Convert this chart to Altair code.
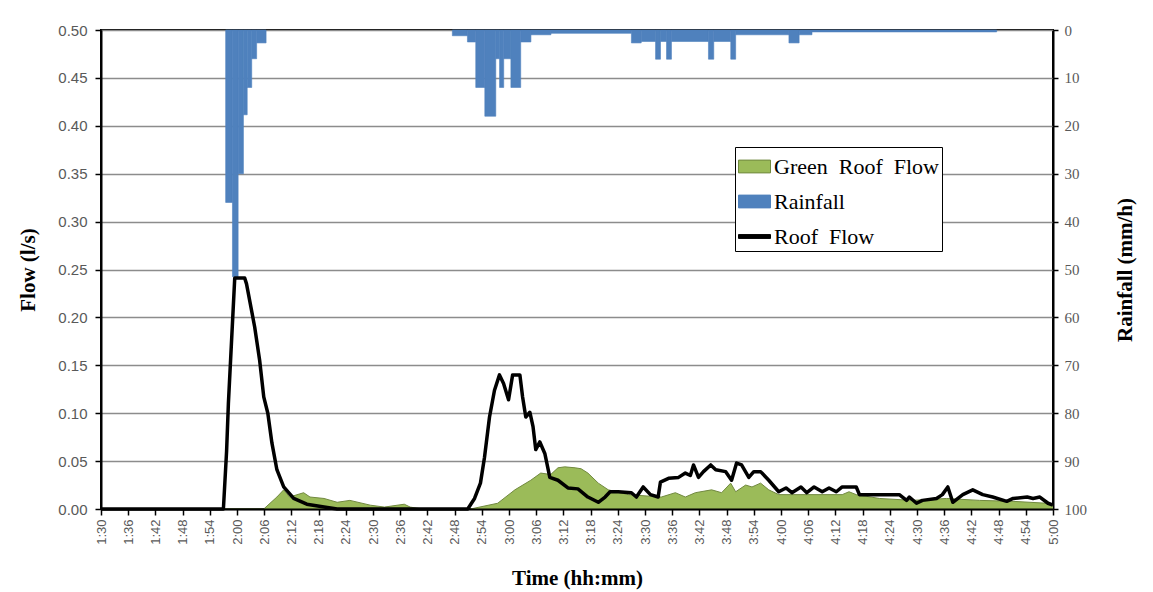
import altair as alt
import pandas as pd


def clock(s):
    p = [int(v) for v in s.split(":")]
    return p[0] * 60 + p[1] + (p[2] if len(p) > 2 else 0) / 60.0


# ---------------- data ----------------
tick_labels = ["1:30", "1:36", "1:42", "1:48", "1:54", "2:00", "2:06", "2:12", "2:18",
               "2:24", "2:30", "2:36", "2:42", "2:48", "2:54", "3:00", "3:06", "3:12",
               "3:18", "3:24", "3:30", "3:36", "3:42", "3:48", "3:54", "4:00", "4:06",
               "4:12", "4:18", "4:24", "4:30", "4:36", "4:42", "4:48", "4:54", "5:00"]
flow_ticks = [0.0, 0.05, 0.10, 0.15, 0.20, 0.25, 0.30, 0.35, 0.40, 0.45, 0.50]
rain_ticks = [0, 10, 20, 30, 40, 50, 60, 70, 80, 90, 100]

# Roof flow (l/s); time in minutes after midnight
roof_time = [90, 117.0, 117.7, 118.1, 119.5, 121.7, 122.1, 123.9, 125.0, 125.9,
             126.8, 127.7, 128.8, 130.3, 132.5, 135.4, 139.2, 142.1, 170.9, 172.4,
             173.7, 174.6, 175.7, 176.8, 177.9, 178.8, 179.9, 180.8, 182.4, 183.0,
             183.7, 184.6, 185.3, 185.9, 186.8, 187.9, 189.0, 190.8, 193.0, 195.2,
             197.4, 199.7, 201.2, 202.3, 204.1, 207.0, 208.1, 209.6, 211.2, 212.9,
             213.4, 215.2, 217.4, 218.9, 220.0, 220.7, 221.8, 222.9, 224.5, 225.6,
             227.8, 229.1, 230.2, 231.3, 232.9, 234.0, 235.5, 237.3, 239.5, 241.1,
             242.4, 244.4, 245.7, 247.3, 249.1, 250.6, 252.2, 253.5, 256.6, 257.3,
             266.1, 267.7, 268.3, 269.9, 271.2, 274.3, 275.6, 276.8, 277.9, 280.1,
             282.3, 284.5, 286.7, 289.8, 291.2, 294.3, 295.6, 297.1, 298.9, 300.0]
roof_flow = [0, 0, 0.06, 0.11, 0.241, 0.241, 0.235, 0.19, 0.155, 0.117,
             0.10, 0.069, 0.041, 0.023, 0.011, 0.005, 0.002, 0.0, 0.0, 0.011,
             0.027, 0.054, 0.096, 0.124, 0.140, 0.131, 0.114, 0.140, 0.140, 0.117,
             0.096, 0.101, 0.086, 0.062, 0.070, 0.058, 0.033, 0.030, 0.022, 0.021,
             0.0125, 0.007, 0.0125, 0.018, 0.018, 0.017, 0.0125, 0.023, 0.015, 0.0125,
             0.028, 0.032, 0.033, 0.0375, 0.035, 0.046, 0.033, 0.039, 0.046, 0.041,
             0.039, 0.030, 0.048, 0.046, 0.033, 0.039, 0.039, 0.030, 0.018, 0.022,
             0.017, 0.023, 0.017, 0.023, 0.018, 0.022, 0.018, 0.023, 0.023, 0.015,
             0.015, 0.009, 0.0125, 0.006, 0.009, 0.011, 0.015, 0.023, 0.007, 0.015,
             0.020, 0.015, 0.0125, 0.008, 0.011, 0.0125, 0.011, 0.0125, 0.006, 0.004]

# Green roof flow (l/s)
green_time = [90, 125.9, 128.8, 130.3, 131.6, 134.7, 136.1, 139.2, 142.1, 144.9,
              149.4, 152.5, 156.9, 158.2, 160.9, 171.5, 177.5, 181.3, 184.8, 187.0,
              189.2, 190.8, 192.3, 194.6, 195.9, 197.4, 199.7, 201.9, 206.3, 213.6,
              216.7, 218.9, 221.1, 224.7, 226.9, 228.9, 230.0, 232.2, 233.6, 235.5,
              237.3, 239.5, 253.5, 255.0, 256.6, 261.7, 269.0, 276.5, 283.8, 291.2,
              298.7, 300.0]
green_flow = [0, 0, 0.0125, 0.020, 0.0125, 0.017, 0.0125, 0.011, 0.007, 0.009,
              0.004, 0.002, 0.005, 0.002, 0.0, 0.0, 0.006, 0.020, 0.030, 0.0375,
              0.036, 0.043, 0.044, 0.043, 0.042, 0.0375, 0.027, 0.020, 0.015, 0.0125,
              0.017, 0.0125, 0.017, 0.020, 0.017, 0.027, 0.018, 0.025, 0.023, 0.027,
              0.020, 0.015, 0.015, 0.018, 0.015, 0.011, 0.009, 0.011, 0.009, 0.008,
              0.006, 0.004]

# Rainfall (mm/h) bars
rain_start = ["1:57:30", "1:59:00", "2:00:15", "2:01:25", "2:02:15", "2:03:15", "2:04:20",
              "2:47:30", "2:50:50", "2:52:40", "2:54:40", "2:57:05", "2:57:55", "2:58:50",
              "3:00:25", "3:02:35", "3:04:50", "3:09:15", "3:27:00", "3:29:10", "3:32:20",
              "3:33:25", "3:34:45", "3:35:50", "3:44:00", "3:45:10", "3:48:55", "3:50:00",
              "4:01:45", "4:04:00", "4:06:50"]
rain_end = ["1:59:00", "2:00:15", "2:01:25", "2:02:15", "2:03:15", "2:04:20", "2:06:25",
            "2:50:50", "2:52:40", "2:54:40", "2:57:05", "2:57:55", "2:58:50", "3:00:25",
            "3:02:35", "3:04:50", "3:09:15", "3:27:00", "3:29:10", "3:32:20", "3:33:25",
            "3:34:45", "3:35:50", "3:44:00", "3:45:10", "3:48:55", "3:50:00", "4:01:45",
            "4:04:00", "4:06:50", "4:47:35"]
rain_value = [36, 51.5, 30, 17.7, 12, 6, 2.7,
              1.2, 2.5, 12, 18, 6, 12, 6,
              12, 2.5, 1.0, 0.7, 2.7, 2.4, 6.1,
              2.4, 6.1, 2.4, 6.1, 2.4, 6.1, 1.0,
              2.7, 1.0, 0.4]

series_names = ["Green Roof Flow", "Rainfall", "Roof Flow"]
series_fill = ["#9bbb59", "#4f81bd", "#000000"]
series_stroke = ["#71893f", "#4f81bd", "#000000"]

# ---------------- frames ----------------
roof = pd.DataFrame({"t": roof_time, "flow": roof_flow})
green = pd.DataFrame({"t": green_time, "flow": green_flow})
rain = pd.DataFrame({
    "start": [clock(s) for s in rain_start],
    "end": [clock(s) for s in rain_end],
    "rain": rain_value,
})
rain["zero"] = 0.0
rain["series"] = "Rainfall"

W, H = 952, 479
SANS = "Liberation Sans"
SERIF = "Liberation Serif"
LABEL_GREY = "#595959"

tick_values = [clock(s) for s in tick_labels]
x_scale = alt.Scale(domain=[90, 300], nice=False, zero=False)
x_axis = alt.Axis(
    values=tick_values,
    labelExpr="floor(datum.value / 60) + ':' + (datum.value % 60 < 10 ? '0' : '') + (datum.value % 60)",
    labelAngle=270, labelFont=SANS, labelFontSize=13, labelColor=LABEL_GREY,
    labelPadding=4, labelFlush=False, labelOverlap=False,
    tickSize=6, tickColor="black", tickWidth=1.5,
    domainColor="black", domainWidth=2, grid=False,
    title="Time (hh:mm)", titleFont=SERIF, titleFontSize=21, titleFontWeight="bold",
    titleColor="black", titleX=W / 2, titleY=69, titleAlign="center", titleBaseline="middle",
    zindex=1,
)

flow_scale = alt.Scale(domain=[0, 0.5], nice=False, zero=True)
flow_axis = alt.Axis(
    orient="left", values=flow_ticks, format=".2f",
    labelFont=SANS, labelFontSize=15, labelColor=LABEL_GREY, labelPadding=8,
    labelFlush=False, labelOverlap=False,
    tickSize=6, tickColor="black", tickWidth=1.5,
    domainColor="black", domainWidth=2,
    grid=True, gridColor="#8c8c8c", gridWidth=1.5,
    title="Flow (l/s)", titleFont=SERIF, titleFontSize=21, titleFontWeight="bold",
    titleColor="black", titleAngle=270, titleX=-73, titleY=H / 2,
    titleAlign="center", titleBaseline="middle",
)

rain_scale = alt.Scale(domain=[0, 100], reverse=True, nice=False, zero=True)
rain_axis = alt.Axis(
    orient="right", values=rain_ticks,
    labelFont=SERIF, labelFontSize=15, labelColor=LABEL_GREY, labelPadding=6,
    labelFlush=False, labelOverlap=False,
    tickSize=5, tickColor="black", tickWidth=1.5,
    domainColor="black", domainWidth=2, grid=False,
    title="Rainfall (mm/h)", titleFont=SERIF, titleFontSize=21, titleFontWeight="bold",
    titleColor="black", titleAngle=270, titleX=72, titleY=H / 2,
    titleAlign="center", titleBaseline="middle",
)

RECT_PATH = "M-1,-0.4H1V0.4H-1Z"
LINE_PATH = "M-1,-0.12H1V0.12H-1Z"
NBSP2 = "\u00a0\u00a0"

legend = alt.Legend(
    title=None, orient="none", legendX=634, legendY=117,
    symbolSize=1024, symbolStrokeWidth=1, symbolOpacity=1,
    labelFont=SERIF, labelFontSize=22, labelColor="black", labelOffset=3,
    labelLimit=400,
    labelExpr="join(split(datum.label, ' '), '" + NBSP2 + "')",
    rowPadding=7, padding=3, strokeColor="black", fillColor="white",
)

rain_bars = alt.Chart(rain).mark_rect(
    color="#4f81bd", stroke="#4f81bd", strokeWidth=0.6
).encode(
    x=alt.X("start:Q", scale=x_scale, axis=x_axis),
    x2="end:Q",
    y=alt.Y("zero:Q", scale=rain_scale, axis=rain_axis),
    y2="rain:Q",
)

legend_pts = alt.Chart(rain).mark_point(filled=True, opacity=0, size=1).encode(
    x=alt.X("start:Q", scale=x_scale, axis=x_axis),
    y=alt.Y("zero:Q", scale=rain_scale, axis=rain_axis),
    fill=alt.Fill("series:N", scale=alt.Scale(domain=series_names, range=series_fill), legend=legend),
    stroke=alt.Stroke("series:N", scale=alt.Scale(domain=series_names, range=series_stroke), legend=legend),
    shape=alt.Shape("series:N", scale=alt.Scale(domain=series_names, range=[RECT_PATH, RECT_PATH, LINE_PATH]), legend=legend),
)

green_area = alt.Chart(green).mark_area(
    color="#9bbb59", opacity=1,
    line=alt.OverlayMarkDef(color="#71893f", strokeWidth=1),
).encode(
    x=alt.X("t:Q", scale=x_scale, axis=x_axis),
    y=alt.Y("flow:Q", scale=flow_scale, axis=flow_axis),
)

roof_line = alt.Chart(roof).mark_line(color="black", strokeWidth=3.5, strokeJoin="round").encode(
    x=alt.X("t:Q", scale=x_scale, axis=x_axis),
    y=alt.Y("flow:Q", scale=flow_scale, axis=flow_axis),
)

rain_layer = alt.layer(rain_bars, legend_pts)
flow_layer = alt.layer(green_area, roof_line)

chart = (
    alt.layer(rain_layer, flow_layer)
    .resolve_scale(y="independent")
    .properties(
        width=W, height=H,
        padding={"left": 93, "top": 22, "right": 90, "bottom": 82},
        autosize=alt.AutoSizeParams(type="none"),
        background="white",
    )
    .configure_view(stroke="black", strokeWidth=2)
)

chart.save("out.html", embed_options={"renderer": "svg", "actions": False})
